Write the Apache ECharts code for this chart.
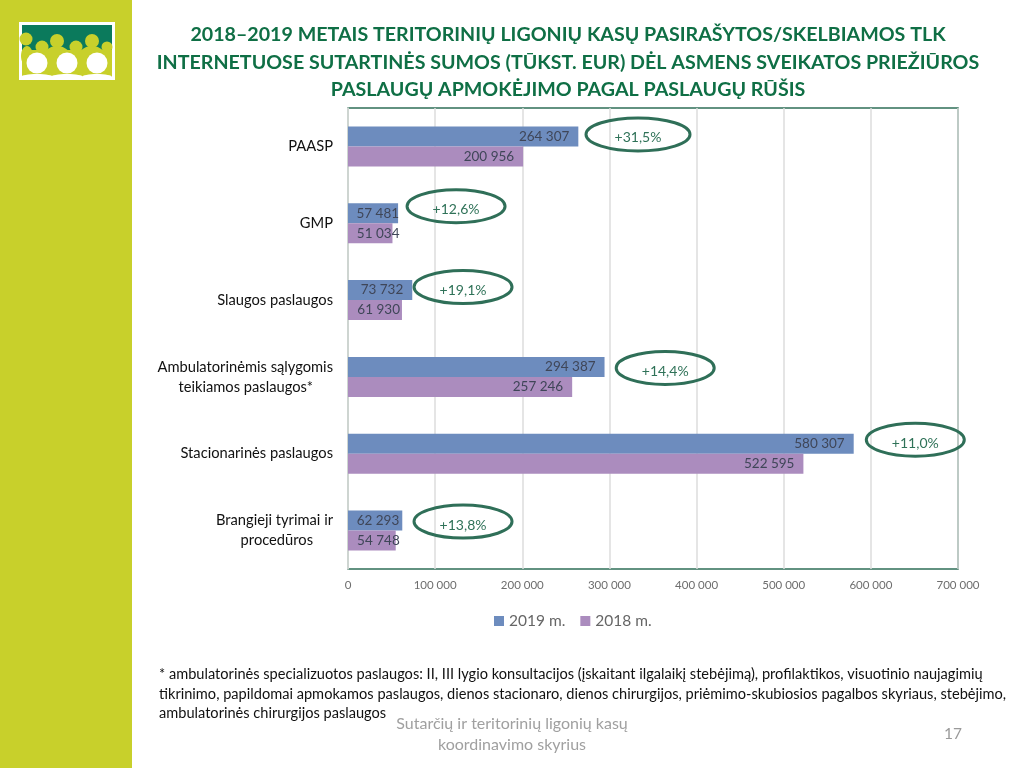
<!DOCTYPE html>
<html><head><meta charset="utf-8">
<style>html,body{margin:0;padding:0;background:#fff}#c{width:1024px;height:768px}</style>
<script src="https://cdn.jsdelivr.net/npm/echarts@6/dist/echarts.min.js"></script>
</head><body><div id="c"></div>
<script>
const categories = ['PAASP','GMP','Slaugos paslaugos','Ambulatorinėmis sąlygomis\nteikiamos paslaugos*','Stacionarinės paslaugos','Brangieji tyrimai ir\nprocedūros'];
const values2019 = [264307,57481,73732,294387,580307,62293];
const values2018 = [200956,51034,61930,257246,522595,54748];
const changes = ['+31,5%','+12,6%','+19,1%','+14,4%','+11,0%','+13,8%'];
const xTicks = [0,100000,200000,300000,400000,500000,600000,700000];

const fmt = v => String(v).replace(/\B(?=(\d{3})+$)/g,' ');
const FONT = 'Lato';
const LIME = '#c8d02b', TEAL = '#0b7a5c', INK = '#2f6f58';
// label nudges (px) for the hand-placed labels, and ellipse anchors
const nudge19 = [0,10,0,0,0,6], nudge18 = [0,16,7,0,0,13];
const ovalX = [332800,124000,132000,364000,651000,132000];
const ovalDy = [-12,-17,-13,-9,-14,-9];
const ovalRx = [52,49,49,49,49,49];

function barData(vals,nudge){
  return vals.map((v,i)=>({value:v,label:{offset:[nudge[i],0]}}));
}
const barLabel = {show:true,position:'insideRight',distance:9,fontFamily:FONT,fontSize:13.5,color:'#3f4658',formatter:p=>fmt(p.value)};

const c = (x,y,r,fill)=>({type:'circle',silent:true,shape:{cx:x,cy:y,r},style:{fill},z:12});
const el = (x,y,rx,ry,fill)=>({type:'ellipse',silent:true,shape:{cx:x,cy:y,rx,ry},style:{fill},z:12});
const people = [
  {type:'rect',silent:true,shape:{x:19,y:22,width:96,height:58},style:{fill:'#fff'},z:11},
  {type:'rect',silent:true,shape:{x:22,y:25,width:90,height:52},style:{fill:LIME},z:11},
  {type:'rect',silent:true,shape:{x:22,y:25,width:90,height:25},style:{fill:TEAL},z:11},
  c(26,39,6.5,LIME),c(42,47,6.5,LIME),c(57,41,7,LIME),c(76,47,6.5,LIME),c(92,41,7,LIME),c(107,47,5.5,LIME),
  el(57,60,15,14,LIME),el(92,60,15,14,LIME),el(27,56,6,10,LIME),
  c(37,63,10.5,'#fff'),c(67,63,10.5,'#fff'),c(97,63,10.5,'#fff'),
  el(37,77,16,3,'#fff'),el(67,77,16,3,'#fff'),el(97,77,15,3,'#fff')
];

const chart = echarts.init(document.getElementById('c'));
chart.setOption({
  animation:false,
  backgroundColor:'#fff',
  textStyle:{fontFamily:FONT},
  title:{
    text:'2018–2019 METAIS TERITORINIŲ LIGONIŲ KASŲ PASIRAŠYTOS/SKELBIAMOS TLK\nINTERNETUOSE SUTARTINĖS SUMOS (TŪKST. EUR) DĖL ASMENS SVEIKATOS PRIEŽIŪROS\nPASLAUGŲ APMOKĖJIMO PAGAL PASLAUGŲ RŪŠIS',
    left:563,top:16,textAlign:'center',
    textStyle:{fontFamily:FONT,fontWeight:'bold',fontSize:19.65,lineHeight:27.5,color:'#0f6f45'}
  },
  legend:{
    data:['2019 m.','2018 m.'],left:489,top:608,itemWidth:10,itemHeight:10,itemGap:15,
    textStyle:{fontFamily:FONT,fontSize:15.5,color:'#666'},icon:'rect'
  },
  grid:{left:348,right:66,top:108,bottom:199,show:true,borderColor:INK,borderWidth:1.5,backgroundColor:'transparent'},
  xAxis:{
    type:'value',min:xTicks[0],max:xTicks[xTicks.length-1],interval:xTicks[1]-xTicks[0],
    axisLine:{show:false},axisTick:{show:false},
    splitLine:{lineStyle:{color:'#dcdcdc',width:1.5}},
    axisLabel:{formatter:fmt,fontFamily:FONT,fontSize:11.5,color:'#6e6e6e',margin:10}
  },
  yAxis:{
    type:'category',inverse:true,data:categories,
    axisLine:{show:true,lineStyle:{color:'#d4d8d4',width:1.5}},axisTick:{show:false},
    axisLabel:{
      margin:15,align:'right',color:'#111',fontFamily:FONT,fontSize:14.7,lineHeight:20,
      formatter:v=>{const p=v.split('\n');return p.length>1?`{a|${p[0]}}\n{b|${p[1]}}`:`{a|${p[0]}}`;},
      rich:{a:{fontFamily:FONT,fontSize:14.7,color:'#111',lineHeight:20},b:{fontFamily:FONT,fontSize:14.7,color:'#111',lineHeight:20,padding:[0,20,0,0]}}
    }
  },
  series:[
    {name:'2019 m.',type:'bar',barWidth:20,barGap:'0%',data:barData(values2019,nudge19),label:barLabel,itemStyle:{color:'#6d8cbe'},z:3},
    {name:'2018 m.',type:'bar',barWidth:20,barGap:'0%',data:barData(values2018,nudge18),label:barLabel,itemStyle:{color:'#ab8cbe'},z:3},
    {name:'change',type:'custom',silent:true,z:5,clip:false,
      encode:{x:0,y:1},
      data:changes.map((t,i)=>[ovalX[i],categories[i],t,ovalDy[i]]),
      renderItem:(params,api)=>{
        const i=params.dataIndex;
        const p=api.coord([ovalX[i],i]);
        const y=p[1]+ovalDy[i];
        return {type:'group',children:[
          {type:'ellipse',shape:{cx:p[0],cy:y,rx:ovalRx[i],ry:16.5},style:{fill:'none',stroke:INK,lineWidth:3}},
          {type:'text',style:{x:p[0],y:y+3.5,text:changes[i],align:'center',verticalAlign:'middle',fontFamily:FONT,fontSize:14,fill:'#2f7258'}}
        ]};
      }
    }
  ],
  graphic:[
    {type:'rect',silent:true,shape:{x:0,y:0,width:132,height:768},style:{fill:LIME},z:10},
    ...people,
    {type:'text',silent:true,z:10,style:{x:159,y:665,text:'* ambulatorinės specializuotos paslaugos: II, III lygio konsultacijos (įskaitant ilgalaikį stebėjimą), profilaktikos, visuotinio naujagimių\ntikrinimo, papildomai apmokamos paslaugos, dienos stacionaro, dienos chirurgijos, priėmimo-skubiosios pagalbos skyriaus, stebėjimo,\nambulatorinės chirurgijos paslaugos',fontFamily:FONT,fontSize:14.6,lineHeight:19.5,fill:'#111'}},
    {type:'text',silent:true,z:10,style:{x:512,y:713,text:'Sutarčių ir teritorinių ligonių kasų\nkoordinavimo skyrius',align:'center',fontFamily:FONT,fontSize:16,lineHeight:21,fill:'#a0a0a0'}},
    {type:'text',silent:true,z:10,style:{x:962,y:726,text:'17',align:'right',fontFamily:FONT,fontSize:15.5,fill:'#9a9a9a'}}
  ]
});
</script></body></html>
